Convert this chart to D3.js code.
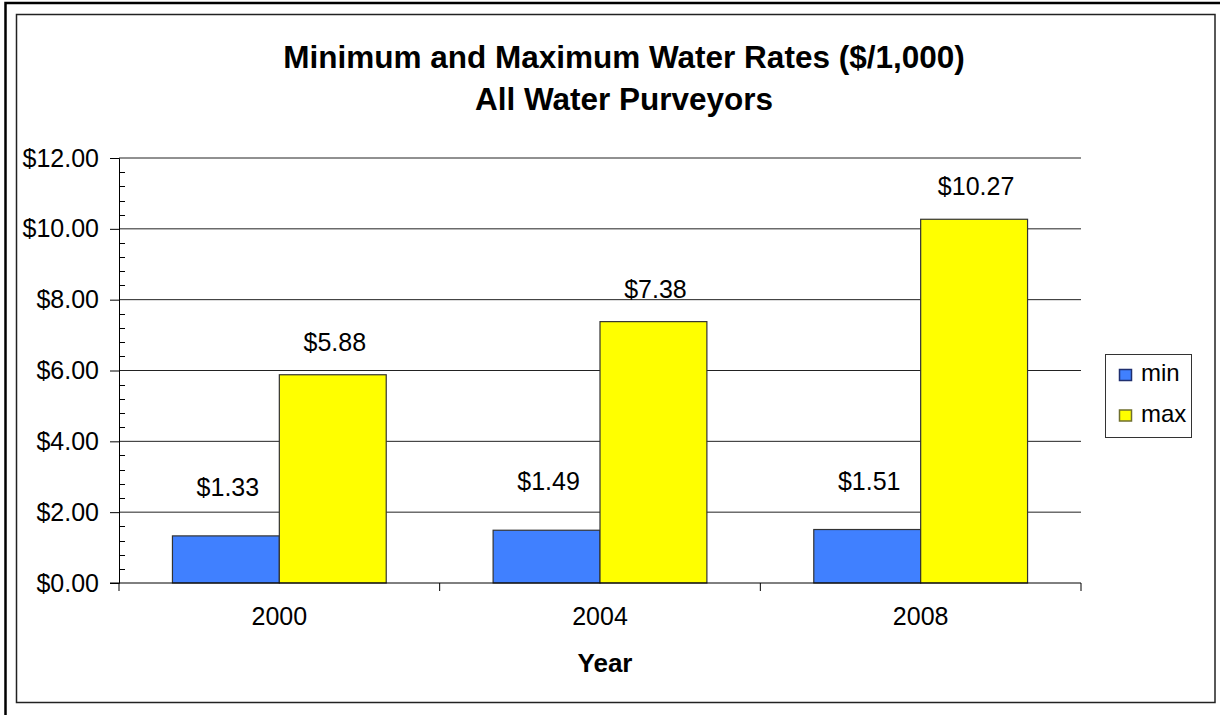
<!DOCTYPE html>
<html>
<head>
<meta charset="utf-8">
<script src="https://cdn.jsdelivr.net/npm/d3@7"></script>
<style>
  html, body { margin: 0; padding: 0; background: #fff; }
  svg { display: block; font-family: "Liberation Sans", Arial, sans-serif; }
</style>
</head>
<body>
<svg id="chart" width="1220" height="715"></svg>
<script>
// ---- data ----
const years = ["2000", "2004", "2008"];
const seriesNames = ["min", "max"];
const minValues = [1.33, 1.49, 1.51];
const maxValues = [5.88, 7.38, 10.27];
const yTickValues = [0, 2, 4, 6, 8, 10, 12];
const titleLines = ["Minimum and Maximum Water Rates ($/1,000)", "All Water Purveyors"];
const xAxisTitle = "Year";

const colors = { min: "#4080ff", max: "#ffff00" };
const strokes = { min: "#1f2f6f", max: "#6f6f2f" };

const rows = years.map((y, i) => ({ year: y, min: minValues[i], max: maxValues[i] }));

const svg = d3.select("#chart");

// borders
svg.append("rect").attr("x", 5.5).attr("y", 3).attr("width", 1230).attr("height", 730)
  .attr("fill", "none").attr("stroke", "#000").attr("stroke-width", 2.5);
svg.append("rect").attr("x", 16.5).attr("y", 14.5).attr("width", 1198.5).attr("height", 688)
  .attr("fill", "#fff").attr("stroke", "#222").attr("stroke-width", 1.5);

// scales
const plot = { left: 119, right: 1081, top: 158, bottom: 583 };
const x0 = d3.scaleBand().domain(years).range([plot.left, plot.right])
  .paddingInner(1 / 3).paddingOuter(1 / 6);
const x1 = d3.scaleBand().domain(seriesNames).range([0, x0.bandwidth()]);
const y = d3.scaleLinear().domain([0, 12]).range([plot.bottom, plot.top]);

// gridlines
svg.append("g").selectAll("line").data(yTickValues.filter(d => d > 0)).join("line")
  .attr("x1", plot.left).attr("x2", plot.right)
  .attr("y1", d => y(d)).attr("y2", d => y(d))
  .attr("stroke", "#222").attr("stroke-width", 1);

// minor ticks (inside)
const minor = d3.range(0, 12.0001, 0.4).filter(v => Math.abs(v / 2 - Math.round(v / 2)) > 1e-6);
svg.append("g").selectAll("line").data(minor).join("line")
  .attr("x1", plot.left).attr("x2", plot.left + 6)
  .attr("y1", d => Math.round(y(d)) + 0.5).attr("y2", d => Math.round(y(d)) + 0.5)
  .attr("stroke", "#000").attr("stroke-width", 1);

// y axis
const yAxis = d3.axisLeft(y).tickValues(yTickValues).tickSize(9).tickPadding(11)
  .tickFormat(d => "$" + d.toFixed(2));
const yg = svg.append("g").attr("transform", `translate(${plot.left},0)`).call(yAxis);
yg.select(".domain").attr("stroke", "#000");
yg.selectAll(".tick line").attr("stroke", "#000");
yg.selectAll(".tick text").attr("font-size", 25).attr("fill", "#000")
  .attr("font-family", "Liberation Sans, Arial, sans-serif");

// bars
const groups = svg.append("g").selectAll("g").data(rows).join("g")
  .attr("transform", d => `translate(${x0(d.year)},0)`);
groups.selectAll("rect").data(d => seriesNames.map(k => ({ key: k, value: d[k] }))).join("rect")
  .attr("x", d => x1(d.key)).attr("width", x1.bandwidth())
  .attr("y", d => y(d.value)).attr("height", d => y(0) - y(d.value))
  .attr("fill", d => colors[d.key]).attr("stroke", "#333").attr("stroke-width", 1.2);

// data labels
const labelLift = { min: 40, max: 24 };
groups.selectAll("text").data(d => seriesNames.map(k => ({ key: k, value: d[k] }))).join("text")
  .attr("x", d => x1(d.key) + x1.bandwidth() / 2 + 2)
  .attr("y", d => y(d.value) - labelLift[d.key])
  .attr("text-anchor", "middle").attr("font-size", 25).attr("fill", "#000")
  .text(d => "$" + d.value.toFixed(2));

// x axis line + category ticks
svg.append("line").attr("x1", plot.left - 9).attr("x2", plot.right)
  .attr("y1", y(0)).attr("y2", y(0)).attr("stroke", "#000");
const boundaries = years.map((d, i) => plot.left + i * x0.step()).concat([plot.right]);
svg.append("g").selectAll("line").data(boundaries).join("line")
  .attr("x1", d => d).attr("x2", d => d)
  .attr("y1", y(0)).attr("y2", y(0) + 8).attr("stroke", "#000");

// x labels
svg.append("g").selectAll("text").data(years).join("text")
  .attr("x", d => x0(d) + x0.bandwidth() / 2)
  .attr("y", y(0) + 42)
  .attr("text-anchor", "middle").attr("font-size", 25).attr("fill", "#000")
  .text(d => d);

// axis title
svg.append("text").attr("x", (plot.left + plot.right) / 2 + 5).attr("y", 672)
  .attr("text-anchor", "middle").attr("font-size", 26).attr("font-weight", "bold")
  .text(xAxisTitle);

// chart title
svg.append("g").selectAll("text").data(titleLines).join("text")
  .attr("x", 624).attr("y", (d, i) => 68 + i * 42)
  .attr("text-anchor", "middle").attr("font-size", 31.5).attr("font-weight", "bold")
  .text(d => d);

// legend
const lg = svg.append("g");
lg.append("rect").attr("x", 1105.5).attr("y", 354.5).attr("width", 86).attr("height", 83)
  .attr("fill", "#fff").attr("stroke", "#333").attr("stroke-width", 1);
const items = lg.selectAll("g").data(seriesNames).join("g")
  .attr("transform", (d, i) => `translate(1119,${369 + i * 40.5})`);
items.append("rect").attr("x", 0.5).attr("y", 0.5).attr("width", 12).attr("height", 11)
  .attr("fill", d => colors[d]).attr("stroke", d => strokes[d]).attr("stroke-width", 1.5);
items.append("text").attr("x", 22).attr("y", 12).attr("font-size", 24).attr("fill", "#000")
  .text(d => d);
</script>
</body>
</html>
